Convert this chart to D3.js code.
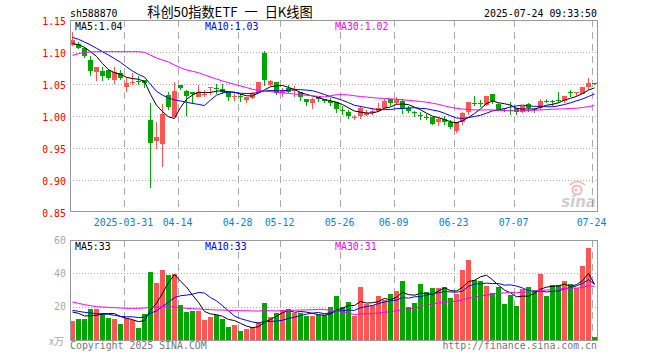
<!DOCTYPE html>
<html><head><meta charset="utf-8">
<script src="https://cdn.jsdelivr.net/npm/d3@7"></script>
<style>body{margin:0;background:#fff}svg{display:block}</style>
</head><body>
<svg id="c" width="660" height="360"></svg>
<script>
// ---------------- DATA ----------------
const dates = [
"2025-03-18","2025-03-19","2025-03-20","2025-03-21","2025-03-24","2025-03-25","2025-03-26","2025-03-27","2025-03-28","2025-03-31",
"2025-04-01","2025-04-02","2025-04-03","2025-04-07","2025-04-08","2025-04-09","2025-04-10","2025-04-11","2025-04-14","2025-04-15",
"2025-04-16","2025-04-17","2025-04-18","2025-04-21","2025-04-22","2025-04-23","2025-04-24","2025-04-25","2025-04-28","2025-04-29",
"2025-04-30","2025-05-06","2025-05-07","2025-05-08","2025-05-09","2025-05-12","2025-05-13","2025-05-14","2025-05-15","2025-05-16",
"2025-05-19","2025-05-20","2025-05-21","2025-05-22","2025-05-23","2025-05-26","2025-05-27","2025-05-28","2025-05-29","2025-05-30",
"2025-06-03","2025-06-04","2025-06-05","2025-06-06","2025-06-09","2025-06-10","2025-06-11","2025-06-12","2025-06-13","2025-06-16",
"2025-06-17","2025-06-18","2025-06-19","2025-06-20","2025-06-23","2025-06-24","2025-06-25","2025-06-26","2025-06-27","2025-06-30",
"2025-07-01","2025-07-02","2025-07-03","2025-07-04","2025-07-07","2025-07-08","2025-07-09","2025-07-10","2025-07-11","2025-07-14",
"2025-07-15","2025-07-16","2025-07-17","2025-07-18","2025-07-21","2025-07-22","2025-07-23","2025-07-24"];

const openP = [1.111,1.1125,1.106,1.088,1.069,1.070,1.072,1.056,1.067,1.046,
1.052,1.055,1.056,0.993,0.9615,0.956,1.033,0.999,1.048,1.039,
1.038,1.030,1.0335,1.043,1.043,1.042,1.038,1.030,1.031,1.025,
1.028,1.038,1.099,1.049,1.053,1.036,1.043,1.040,1.038,1.027,
1.021,1.029,1.027,1.024,1.022,1.010,1.006,0.998,1.000,1.001,
1.004,1.008,1.012,1.026,1.021,1.023,1.012,1.007,1.002,0.9985,
0.998,0.990,0.995,0.990,0.977,0.991,1.007,1.021,1.021,1.017,
1.034,1.019,1.013,1.010,1.013,1.007,1.019,1.011,1.013,1.024,
1.024,1.025,1.024,1.037,1.037,1.035,1.045,1.051];
const highP = [1.132,1.115,1.108,1.093,1.077,1.077,1.073,1.077,1.072,1.059,
1.067,1.062,1.057,1.020,0.990,1.019,1.038,1.053,1.049,1.040,
1.038,1.049,1.041,1.046,1.050,1.050,1.038,1.037,1.035,1.030,
1.038,1.053,1.102,1.056,1.053,1.043,1.048,1.047,1.038,1.027,
1.028,1.030,1.027,1.028,1.022,1.015,1.009,1.002,1.015,1.009,
1.012,1.021,1.027,1.026,1.029,1.027,1.016,1.008,1.006,1.003,
0.998,0.998,1.000,0.994,0.990,1.007,1.022,1.031,1.025,1.031,
1.034,1.020,1.013,1.022,1.013,1.016,1.020,1.012,1.026,1.027,
1.025,1.037,1.032,1.040,1.038,1.046,1.060,1.052];
const lowP = [1.109,1.104,1.090,1.063,1.055,1.055,1.056,1.050,1.056,1.038,
1.049,1.048,1.043,0.888,0.949,0.920,1.009,0.998,1.040,1.000,
1.019,1.029,1.029,1.033,1.035,1.035,1.024,1.023,1.022,1.020,
1.027,1.037,1.047,1.047,1.033,1.029,1.036,1.030,1.024,1.016,
1.011,1.022,1.020,1.015,1.005,1.002,0.996,0.994,0.996,1.000,
1.002,1.007,1.011,1.015,1.018,1.003,1.005,0.999,0.993,0.993,
0.986,0.985,0.986,0.980,0.974,0.986,1.002,1.016,1.014,1.016,
1.019,1.008,1.007,1.002,1.002,1.004,1.007,1.005,1.009,1.020,
1.016,1.020,1.020,1.030,1.031,1.034,1.041,1.049];
const closeP = [1.119,1.107,1.093,1.071,1.076,1.063,1.059,1.069,1.059,1.052,
1.053,1.054,1.052,0.958,0.967,1.003,1.014,1.039,1.043,1.032,
1.035,1.038,1.034,1.045,1.042,1.038,1.030,1.031,1.030,1.029,
1.0365,1.053,1.056,1.054,1.036,1.040,1.037,1.041,1.029,1.022,
1.027,1.026,1.024,1.020,1.0105,1.009,1.000,0.999,1.012,1.004,
1.008,1.013,1.024,1.021,1.025,1.011,1.008,1.004,1.001,0.998,
0.988,0.996,0.990,0.983,0.990,1.004,1.022,1.020,1.020,1.031,
1.024,1.009,1.012,1.009,1.007,1.016,1.012,1.010,1.023,1.023,
1.023,1.024,1.032,1.036,1.038,1.045,1.051,1.050];
const volume = [11.6,12.4,12.8,18.6,18.6,16.0,13.4,12.6,9.8,13.4,
11.8,7.4,15.6,41.0,34.4,42.0,39.2,39.8,21.0,17.0,
17.6,17.6,12.2,13.8,14.8,12.8,8.0,9.0,5.6,6.4,
8.0,11.0,22.4,13.8,16.4,18.0,18.6,16.4,16.0,14.6,
14.2,14.8,14.8,19.6,26.4,19.8,23.0,14.6,31.8,21.6,
20.8,26.4,24.2,27.6,29.4,35.4,19.6,22.4,33.6,28.8,
31.2,31.2,31.8,25.2,27.6,42.2,48.2,36.0,35.4,32.6,
28.4,31.8,21.8,27.0,20.4,30.6,31.8,30.0,39.8,26.4,
33.0,33.0,35.4,33.6,31.2,44.6,55.4,1.8];

// moving-average values at the window start (earlier history not shown)
const ma5Head  = [1.113,1.1115,1.1073,1.1005];
const ma10Head = [1.1229,1.1198,1.1156,1.1110,1.1058,1.1005,1.0953,1.0896,1.0839];
const ma30Head = [1.0948,1.0974,1.0995,1.1000,1.1005,1.1005,1.1005,1.1005,1.1005,1.1005,1.1005,1.1005,
1.0995,1.0953,1.0906,1.0875,1.0844,1.0797,1.0755,1.0719,1.0698,1.0677,1.0641,1.0610,1.0578,1.0547,1.0521,1.0495,1.0469];
const vma5Head  = [16.8,16.0,14.4,14.6];
const vma10Head = [17.8,17.2,16.6,16.2,15.8,15.6,15.4,14.8,14.2];
const vma30Head = [22.8,22.0,21.2,20.6,20.0,19.8,19.6,19.4,19.2,19.0,19.0,19.0,19.2,19.6,19.8,20.0,20.0,19.8,19.4,19.0,18.8,18.6,18.4,18.2,18.0,18.0,17.8,17.6,17.6];

const priceTicks = [1.15,1.10,1.05,1.00,0.95,0.90,0.85];
const volTicks = [60,40,20];
const dateTicks = ["2025-03-31","2025-04-14","2025-04-28","2025-05-12","2025-05-26","2025-06-09","2025-06-23","2025-07-07","2025-07-24"];
const dateTickLabels = ["2025-03-31","04-14","04-28","05-12","05-26","06-09","06-23","07-07","07-24"];
const priceMaLabels = ["MA5:1.04","MA10:1.03","MA30:1.02"];
const volMaLabels = ["MA5:33","MA10:33","MA30:31"];
const code = "sh588870";
const title = "科创50指数ETF 一 日K线图";
const stamp = "2025-07-24 09:33:50";

// ---------------- DRAW ----------------
const svg = d3.select("#c");
const L = 70, R = 597;
const RED = "#ff5555", GREEN = "#00a600", GRID = "#aaaaaa", FRAME = "#999999";
const MONO = "'DejaVu Sans Mono', 'Liberation Mono', monospace";
const maColors = ["#000000","#0000ff","#ff00ff"];

const x = d3.scaleBand().domain(dates).range([L, L + 6 * (dates.length - 1/6)]).paddingInner(1/6).paddingOuter(0);
const yP = d3.scaleLinear().domain([0.85, 1.15]).range([212, 20]);
const yV = d3.scaleLinear().domain([0, 60]).range([340, 240]);

function ma(arr, n, head) {
  return arr.map((_, i) => {
    if (i < n - 1) return head[i];
    return d3.mean(arr.slice(i - n + 1, i + 1));
  });
}
const data = dates.map((d, i) => ({d, o: openP[i], h: highP[i], l: lowP[i], c: closeP[i], v: volume[i], up: closeP[i] >= openP[i]}));

// grid: horizontal dotted
const g = svg.append("g");
g.selectAll(".hp").data(priceTicks.slice(1, -1)).join("line")
  .attr("x1", L).attr("x2", R).attr("y1", d => Math.round(yP(d)) + 0.5).attr("y2", d => Math.round(yP(d)) + 0.5)
  .attr("stroke", GRID).attr("stroke-dasharray", "1,2");
g.selectAll(".hv").data(volTicks.slice(1)).join("line")
  .attr("x1", L).attr("x2", R).attr("y1", d => Math.round(yV(d)) + 0.5).attr("y2", d => Math.round(yV(d)) + 0.5)
  .attr("stroke", GRID).attr("stroke-dasharray", "1,2");
// vertical dashed
[[20, 212], [240, 340]].forEach(([y1, y2]) => {
  g.append("g").selectAll("line").data(dateTicks).join("line")
    .attr("x1", d => x(d) + 0.5).attr("x2", d => x(d) + 0.5).attr("y1", y1).attr("y2", y2)
    .attr("stroke", GRID).attr("stroke-dasharray", "7,5");
});

// watermark
const wm = svg.append("g").attr("opacity", 0.4);
wm.append("circle").attr("cx", 577).attr("cy", 190).attr("r", 4.5).attr("fill", "none").attr("stroke", "#e05050").attr("stroke-width", 2);
wm.append("circle").attr("cx", 576).attr("cy", 190).attr("r", 1.6).attr("fill", "#e05050");
wm.append("path").attr("d", "M570,185 Q577,178 585,185").attr("fill", "none").attr("stroke", "#e05050").attr("stroke-width", 1.5);
wm.append("text").attr("x", 596).attr("y", 207).attr("text-anchor", "end")
  .attr("font-family", "'DejaVu Sans', sans-serif").attr("font-size", 15).attr("font-weight", "bold").attr("font-style", "italic")
  .attr("fill", "#888").text("sina");

// candles
const cg = svg.append("g").attr("shape-rendering", "crispEdges");
cg.selectAll(".w").data(data).join("rect")
  .attr("x", d => x(d.d) + 2).attr("width", 1)
  .attr("y", d => yP(d.h)).attr("height", d => Math.max(1, yP(d.l) - yP(d.h)))
  .attr("fill", d => d.up ? RED : GREEN);
cg.selectAll(".b").data(data).join("rect")
  .attr("x", d => x(d.d)).attr("width", x.bandwidth())
  .attr("y", d => yP(Math.max(d.o, d.c))).attr("height", d => Math.max(1, Math.abs(yP(d.o) - yP(d.c))))
  .attr("fill", d => d.up ? RED : GREEN);
// volume bars
cg.selectAll(".v").data(data).join("rect")
  .attr("x", d => x(d.d)).attr("width", x.bandwidth())
  .attr("y", d => yV(d.v)).attr("height", d => yV(0) - yV(d.v))
  .attr("fill", d => d.up ? RED : GREEN);

// MA lines
const cx = d => x(d) + 2.5;
const pm = [ma(closeP, 5, ma5Head), ma(closeP, 10, ma10Head), ma(closeP, 30, ma30Head)];
const vm = [ma(volume, 5, vma5Head), ma(volume, 10, vma10Head), ma(volume, 30, vma30Head)];
pm.forEach((arr, k) => {
  svg.append("path").datum(arr).attr("fill", "none").attr("stroke", maColors[k]).attr("stroke-width", 1)
    .attr("d", d3.line().x((v, i) => cx(dates[i])).y(v => yP(v)));
});
vm.forEach((arr, k) => {
  svg.append("path").datum(arr).attr("fill", "none").attr("stroke", maColors[k]).attr("stroke-width", 1)
    .attr("d", d3.line().x((v, i) => cx(dates[i])).y(v => yV(v)));
});

// frames
svg.append("rect").attr("x", L + 0.5).attr("y", 20.5).attr("width", R - L).attr("height", 191).attr("fill", "none").attr("stroke", FRAME);
svg.append("rect").attr("x", L + 0.5).attr("y", 240.5).attr("width", R - L).attr("height", 100).attr("fill", "none").attr("stroke", FRAME);

// texts
const T = (xx, yy, s, opts = {}) => svg.append("text").attr("x", xx).attr("y", yy)
  .attr("font-family", opts.font || MONO).attr("font-size", opts.size || 9.9)
  .attr("fill", opts.fill || "#000").attr("text-anchor", opts.anchor || "start").text(s);

T(L, 16.5, code);
T(230, 17, title, {font: "'Noto Sans CJK SC', sans-serif", size: 13.2, anchor: "middle"})
  .attr("word-spacing", 4).style("white-space", "pre");
T(R, 16.5, stamp, {anchor: "end"});

svg.append("g").selectAll("text").data(priceTicks).join("text")
  .attr("x", 66).attr("y", d => yP(d) + 4.5).attr("text-anchor", "end")
  .attr("font-family", MONO).attr("font-size", 9.9).attr("fill", "#ff0000").text(d => d.toFixed(2));
svg.append("g").selectAll("text").data(volTicks).join("text")
  .attr("x", 66).attr("y", d => yV(d) + 3.5).attr("text-anchor", "end")
  .attr("font-family", MONO).attr("font-size", 9.9).attr("fill", "#aaaaaa").text(d => d);
T(64, 345, "x万", {font: "'Noto Sans CJK SC', sans-serif", size: 10, fill: "#aaaaaa", anchor: "end"});

svg.append("g").selectAll("text").data(dateTicks).join("text")
  .attr("x", d => x(d) - 0.5).attr("y", 225.5).attr("text-anchor", "middle")
  .attr("font-family", MONO).attr("font-size", 9.9).attr("fill", "#1080d0").text((d, i) => dateTickLabels[i]);

priceMaLabels.forEach((s, k) => T(75 + 130 * k, 29.5, s, {fill: maColors[k]}));
volMaLabels.forEach((s, k) => T(75 + 130 * k, 249.5, s, {fill: maColors[k]}));

T(L, 349, "Copyright 2025 SINA.COM", {fill: "#777777"});
T(R, 349, "http://finance.sina.com.cn", {fill: "#777777", anchor: "end"});
</script>
</body></html>
